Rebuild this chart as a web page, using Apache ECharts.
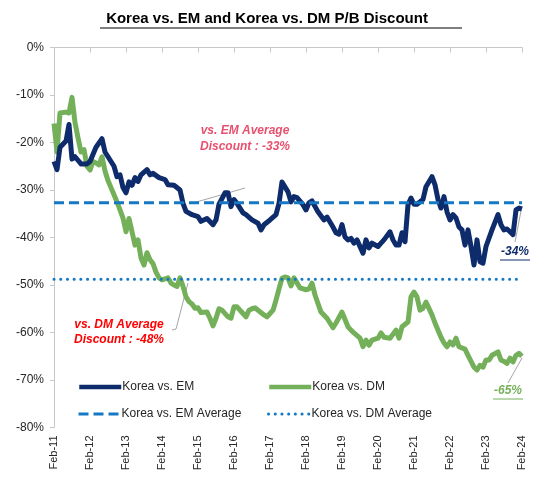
<!DOCTYPE html>
<html><head><meta charset="utf-8">
<script src="https://cdn.jsdelivr.net/npm/echarts@6/dist/echarts.min.js"></script>
<style>html,body{margin:0;padding:0;background:#fff}#c{width:534px;height:477px}</style>
</head><body><div id="c"></div>
<script>
// x labels (one per 12 months, Feb-11 .. Feb-24)
const tickLabels = ['Feb-11','Feb-12','Feb-13','Feb-14','Feb-15','Feb-16','Feb-17','Feb-18','Feb-19','Feb-20','Feb-21','Feb-22','Feb-23','Feb-24'];

// Korea vs. EM (month index since Feb-11, discount %)
const emMonth = [0,1,2,4,5,6,7,9,11,12,14,16,17,18,20,21,22,23,24,25,26,27,28,29,31,32,33,35,37,38,40,42,43,44,46,48,49,51,53,54,55,57,58,59,60,61,63,64,66,68,69,70,72,74,75,76,78,79,80,81,83,84,85,86,88,90,91,93,94,95,96,97,98,99,100,101,103,104,105,106,108,109,110,112,113,114,115,116,117,118,119,120,121,123,124,126,127,128,129,130,131,132,133,134,135,136,137,138,139,140,141,142,143,144,146,148,149,150,151,152,153,154,155,156];
const emValue = [-24,-25.7,-21,-19.7,-16.2,-23.5,-23,-24.5,-24.5,-24,-21,-19.2,-22,-23,-25,-27.2,-26.8,-29.5,-30.6,-28.3,-29,-27.4,-28.2,-26.8,-25.7,-26.8,-26.5,-27.4,-27.8,-28.9,-29,-30,-32.8,-34.5,-35.2,-35.6,-36.6,-36,-37.3,-36.3,-33,-30.6,-30.6,-33.5,-32,-32.8,-34.8,-35.2,-36.3,-37,-38.4,-37.3,-36.3,-35.2,-32.8,-28.3,-30.4,-32.5,-31.4,-31.6,-33.1,-34.2,-32.7,-32.3,-34.6,-36.3,-35.7,-37.8,-39,-39.3,-37.3,-39.9,-40.5,-40.2,-41.2,-40.5,-43.3,-40.5,-42.2,-41.2,-41.9,-41.2,-40.5,-38.8,-40.5,-41.6,-41.6,-39,-40.9,-33.1,-31.7,-33,-33,-32,-29.3,-27.2,-28.9,-32,-33.8,-31.4,-34.6,-36.3,-35.2,-35.9,-37.8,-38.4,-41.6,-38.4,-41.9,-45.8,-40.5,-45.1,-45.4,-41.9,-38.4,-35.2,-37.3,-38.4,-38.2,-38.8,-39.4,-34.2,-33.8,-34];

// Korea vs. DM
const dmMonth = [0,1,2,4,5,6,7,8,9,10,11,12,13,14,15,16,17,18,19,20,21,22,23,24,25,26,27,28,29,30,31,32,33,34,35,36,38,39,40,41,42,43,44,45,46,47,48,49,51,52,53,54,55,56,58,59,60,61,63,64,65,66,67,68,70,71,72,73,74,75,76,77,78,79,80,82,84,85,86,87,89,91,93,94,96,98,99,100,102,103,104,105,106,108,109,110,112,114,115,116,118,119,120,121,122,123,124,126,127,129,130,131,132,133,134,135,137,138,140,141,142,143,144,145,146,148,149,150,151,152,153,154,155,156];
const dmValue = [-16,-22,-13.8,-13.6,-13.8,-10.5,-15.8,-19,-22,-21.5,-25,-25.8,-24,-24.3,-24.7,-23,-26,-28,-29.5,-31,-32.5,-34.2,-35.9,-38.8,-36,-38.8,-41.6,-40.5,-44.3,-45.8,-43.2,-44.7,-45.5,-47.3,-48.5,-48.9,-48.5,-49.6,-50,-50.3,-48.5,-50.3,-52.5,-53.5,-54,-54.9,-54.8,-55.8,-55.7,-57,-58.6,-57,-55,-55.3,-56.7,-57,-54.6,-54.6,-56,-56.7,-55.3,-55,-54.8,-55.3,-56.3,-56.7,-56,-55.3,-53.2,-50.8,-48.6,-48.3,-48.5,-50.2,-48.5,-50.6,-51,-50.8,-49.6,-52.1,-55.7,-57,-59,-58,-55.7,-58.8,-59.5,-60.1,-61.2,-63,-61.6,-62.7,-61.6,-61.2,-60.1,-61,-61.2,-59.5,-61.2,-58.8,-57.8,-52.5,-51.5,-52.5,-55.3,-54.9,-53.6,-56.3,-58,-61,-62.2,-63,-62,-62.6,-61.2,-63,-63.5,-64.8,-67.3,-67.9,-66.9,-67.3,-65.8,-65.8,-64.8,-64.1,-65.8,-66.1,-66.5,-65.4,-66.2,-64.8,-64.4,-65];

// Averages
const emAverageMonths = [0,156];
const emAverageValues = [-32.7,-32.7];
const dmAverageMonths = [0,155];
const dmAverageValues = [-48.8,-48.8];

const pairs = (xs, ys) => xs.map((x,i)=>[x, ys[i]]);
const FONT = "'Liberation Sans', Arial, sans-serif";
const C_EM = '#0E2C6B', C_DM = '#74B05A', C_AVG = '#1478C4';

const chart = echarts.init(document.getElementById('c'), null, {renderer:'canvas'});
const legendBase = (name, left, top, w) => ({
  data:[name], left:left, top:top, itemWidth:42, itemHeight:10, itemGap:0, padding:0,
  itemStyle:{opacity:0},
  lineStyle:{width:w},
  textStyle:{fontFamily:FONT, fontSize:12, color:'#262626', padding:[0,0,0,-4]}
});
chart.setOption({
  animation:false,
  backgroundColor:'#fff',
  grid:{left:54, right:12, top:47.5, bottom:49.5},
  xAxis:[{
    type:'value', min:0, max:156, interval:12, position:'bottom',
    axisLine:{show:false, onZero:false}, axisTick:{show:false}, splitLine:{show:false},
    axisLabel:{rotate:90, fontFamily:FONT, fontSize:11, color:'#262626', margin:8,
      formatter:v=>tickLabels[Math.round(v/12)]}
  },{
    type:'value', min:0, max:156, interval:12, position:'top',
    axisLine:{show:true, onZero:false, lineStyle:{color:'#C8C8C8', width:1}},
    axisTick:{show:true, inside:true, length:5, lineStyle:{color:'#C8C8C8'}},
    axisLabel:{show:false}, splitLine:{show:false}
  }],
  yAxis:{
    type:'value', min:-80, max:0, interval:10,
    axisLine:{show:true, lineStyle:{color:'#C8C8C8', width:1}},
    axisTick:{show:true, length:4, lineStyle:{color:'#C8C8C8'}},
    splitLine:{show:false},
    axisLabel:{fontFamily:FONT, fontSize:12, color:'#262626', margin:10, formatter:v=>v+'%'}
  },
  legend:[
    legendBase('Korea vs. EM', 77, 381, 4.5),
    legendBase('Korea vs. DM', 267, 381, 4.5),
    legendBase('Korea vs. EM Average', 77, 408, 3),
    legendBase('Korea vs. DM Average', 267, 408, 3)
  ],
  series:[
    {name:'Korea vs. EM', type:'line', data:pairs(emMonth, emValue), symbol:'none', z:3,
     lineStyle:{color:C_EM, width:5, join:'round'}, itemStyle:{color:C_EM}},
    {name:'Korea vs. DM', type:'line', data:pairs(dmMonth, dmValue), symbol:'none', z:2,
     lineStyle:{color:C_DM, width:5, join:'round'}, itemStyle:{color:C_DM}},
    {name:'Korea vs. EM Average', type:'line', data:pairs(emAverageMonths, emAverageValues), symbol:'none', z:4,
     lineStyle:{color:C_AVG, width:3, type:[10,5]}, itemStyle:{color:C_AVG}},
    {name:'Korea vs. DM Average', type:'line', data:pairs(dmAverageMonths, dmAverageValues), symbol:'none', z:4,
     lineStyle:{color:C_AVG, width:3, type:[0.1,6.6], cap:'round'}, itemStyle:{color:C_AVG}}
  ],
  graphic:[
    {type:'text', left:'center', top:11, style:{text:'Korea vs. EM and Korea vs. DM P/B Discount', font:'bold 15px '+FONT, fill:'#000'}},
    {type:'line', shape:{x1:100, y1:28, x2:462, y2:28}, style:{stroke:'#000', lineWidth:1.2}},
    {type:'text', x:245, y:123, style:{text:'vs. EM Average\nDiscount : -33%', font:'italic bold 12px '+FONT, fill:'#E8506E', align:'center', lineHeight:16}},
    {type:'line', shape:{x1:193, y1:203, x2:245, y2:188}, style:{stroke:'#A6A6A6', lineWidth:1}},
    {type:'text', x:119, y:317, style:{text:'vs. DM Average\nDiscount : -48%', font:'italic bold 12px '+FONT, fill:'#FF0000', align:'center', lineHeight:15}},
    {type:'polyline', shape:{points:[[172,330],[176,329],[188,283]]}, style:{stroke:'#A6A6A6', lineWidth:1, fill:null}},
    {type:'text', x:515, y:246, style:{text:'-34%', font:'italic bold 12px '+FONT, fill:C_EM, align:'center'}},
    {type:'line', shape:{x1:500, y1:260, x2:530, y2:260}, style:{stroke:C_EM, lineWidth:1}},
    {type:'line', shape:{x1:521, y1:211, x2:515, y2:242}, style:{stroke:'#A6A6A6', lineWidth:1}},
    {type:'text', x:508, y:385, style:{text:'-65%', font:'italic bold 12px '+FONT, fill:C_DM, align:'center'}},
    {type:'line', shape:{x1:493, y1:399, x2:523, y2:399}, style:{stroke:C_DM, lineWidth:1}},
    {type:'line', shape:{x1:522, y1:358, x2:508, y2:383}, style:{stroke:'#A6A6A6', lineWidth:1}}
  ]
});
</script></body></html>
